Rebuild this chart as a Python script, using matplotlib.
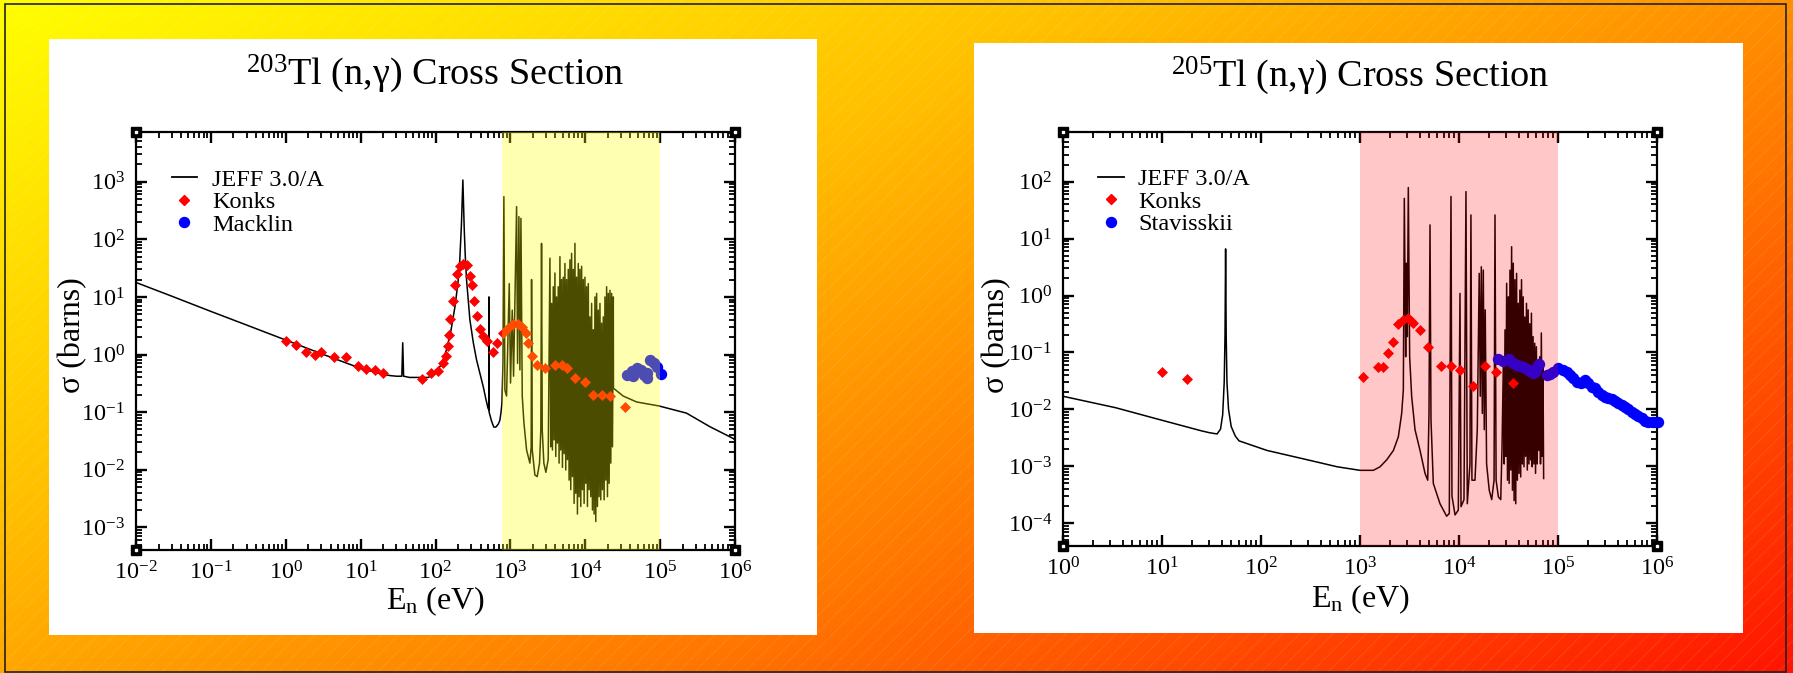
import numpy as np
import matplotlib
matplotlib.use("Agg")
import matplotlib.pyplot as plt
from matplotlib.patches import Rectangle
from matplotlib.lines import Line2D
from matplotlib.ticker import LogLocator, LogFormatterMathtext, NullFormatter

plt.rcParams['font.family'] = ['Liberation Serif', 'DejaVu Serif']
plt.rcParams['mathtext.fontset'] = 'custom'
plt.rcParams['mathtext.rm'] = 'Liberation Serif'
plt.rcParams['mathtext.it'] = 'Liberation Serif:italic'
plt.rcParams['mathtext.bf'] = 'Liberation Serif:bold'

# ------------------------------------------------------------------ data
# ---- 203Tl : JEFF 3.0/A evaluated curve
jeff203_pre_E = [0.01, 0.03, 0.1, 0.3, 1.0, 3.0, 10, 15, 20, 25, 30, 35.5, 36.5, 37.5, 45, 62, 80,
                 100, 120, 140, 160, 182, 200, 211, 222, 228, 232, 236, 242, 250, 260, 275, 288,
                 320, 354, 400, 436, 470, 500, 514, 517, 520, 560, 600, 640, 690, 724, 750,
                 771, 796, 819, 845, 889, 966, 1005, 1059, 1103, 1211, 1248, 1300, 1340, 1383,
                 1441, 1517, 1646, 1822, 1896, 1918, 1960, 2124, 2282, 2452, 2551, 2607, 2665,
                 2800, 2980, 3200]
jeff203_pre_sig = [17.8, 10.3, 5.6, 3.25, 1.78, 1.03, 0.575, 0.50, 0.45, 0.43, 0.42, 0.42, 1.6, 0.42,
                   0.40, 0.40, 0.40, 0.47, 0.68, 1.2, 2.5, 6.8, 18, 44, 180, 500, 1070, 500, 150,
                   50, 19.6, 8, 4, 1.6, 0.8, 0.42, 0.27, 0.17, 0.12, 0.11, 10, 0.10, 0.07, 0.055,
                   0.055, 0.062, 0.072, 0.10,
                   0.142, 0.70, 550, 0.24, 0.19, 17, 0.32, 5.9, 0.42, 369, 0.70, 247, 0.54, 231,
                   0.19, 0.065, 0.022, 0.013, 0.025, 20, 0.022, 0.0081, 0.0076, 0.013, 0.049, 85,
                   0.049, 0.013, 0.009, 0.015]
# unresolved-looking dense resonance band: resonance tops and dips
jeff203_peak_E = [3375, 3553, 3740, 3936, 4143, 4361, 4591, 4832, 5087, 5354, 5636, 5933, 6245,
                  6573, 6919, 7283, 7666, 8070, 8494, 8941, 9412, 9907, 10428, 10977, 11554,
                  12162, 12802, 13476, 14185, 14931, 15717, 16544, 17415, 18331, 19296, 20311,
                  21380, 22505, 23689]
jeff203_peak_sig = [47, 7.7, 15, 26, 10, 15, 50, 20, 22, 38, 20, 30, 44, 57, 30, 85, 22, 38, 30,
                    34, 20, 22, 15, 17, 4.5, 7.7, 2.7, 10, 11.5, 5.9, 7.7, 3.5, 4.5, 10, 15, 11.5,
                    13, 11.5, 10]
jeff203_dip_E = [3463, 3645, 3837, 4038, 4251, 4474, 4710, 4958, 5219, 5493, 5783, 6087, 6407,
                 6744, 7099, 7472, 7865, 8280, 8715, 9173, 9657, 10165, 10699, 11262, 11854,
                 12478, 13135, 13826, 14554, 15319, 16126, 16974, 17868, 18808, 19798, 20839,
                 21936, 23090]
jeff203_dip_sig = [0.025, 0.022, 0.033, 0.017, 0.029, 0.013, 0.022, 0.011, 0.019, 0.0099, 0.015,
                   0.0066, 0.0045, 0.0076, 0.0026, 0.0039, 0.0017, 0.0034, 0.0023, 0.0045, 0.0026,
                   0.0058, 0.0023, 0.0045, 0.0034, 0.0020, 0.0017, 0.00126, 0.0023, 0.0034,
                   0.0030, 0.0045, 0.0030, 0.0066, 0.0034, 0.0058, 0.013, 0.025]
jeff203_post_E = [23800, 32100, 48500, 96200, 225000, 460000, 940000, 1.0e6]
jeff203_post_sig = [0.26, 0.19, 0.15, 0.128, 0.096, 0.056, 0.035, 0.033]

konks203_E = [1.0, 1.37, 1.85, 2.45, 3.0, 4.45, 6.3, 9.1, 11.7, 15.5, 19.7, 66, 88, 109, 127, 138,
              148, 153, 158, 169, 181, 195, 212, 236, 265, 287, 310, 326, 355, 392, 433, 488,
              578, 667, 803, 936, 1092, 1273, 1409, 1612, 1731, 1918, 2282, 2889, 3929, 4819,
              5620, 7267, 9880, 12770, 16490, 21330, 33800]
konks203_sig = [1.71, 1.46, 1.12, 0.98, 1.12, 0.89, 0.89, 0.62, 0.55, 0.54, 0.47, 0.38, 0.47, 0.51,
                0.72, 0.94, 1.4, 2.2, 4.2, 8.5, 16, 24.5, 34, 38, 36, 23, 16, 8.5, 4.7, 2.8, 2.1,
                1.7, 1.12, 1.56, 2.33, 2.85, 3.39, 3.39, 2.97, 2.33, 1.56, 0.94, 0.66, 0.575,
                0.66, 0.66, 0.575, 0.386, 0.338, 0.199, 0.199, 0.19, 0.124]
macklin_E = [35600, 41500, 44000, 48400, 54700, 60600, 66000, 67200, 72900, 82400, 91400, 102000]
macklin_sig = [0.44, 0.525, 0.43, 0.575, 0.54, 0.44, 0.48, 0.386, 0.80, 0.72, 0.60, 0.46]

# ---- 205Tl : JEFF 3.0/A evaluated curve
jeff205_pre_E = [1, 3.4, 9.8, 25, 30, 36, 39, 41, 42.5, 43.3, 43.9, 44.5, 45.3, 47, 50, 55, 60,
                 115, 295, 590, 1000, 1364, 1593, 1862, 2175, 2440, 2636, 2740, 2803, 2893, 2938,
                 3006, 3076, 3174, 3325, 3595, 4040, 4538, 4830, 4977, 5095, 5213, 5503, 6430,
                 7500, 7980, 8300, 8490, 9120, 9840, 10230, 10480, 11230, 11760, 12130, 12900,
                 13200, 13510, 14500, 15300, 16000, 16400, 16800, 17200, 17600, 18000, 18400,
                 19000, 20200, 21400, 22600, 23100, 23700, 25000, 26400, 27200]
jeff205_pre_sig = [0.017, 0.0107, 0.0065, 0.0042, 0.0039, 0.0037, 0.0045, 0.008, 0.03, 0.2, 6.6,
                   0.2, 0.03, 0.01, 0.005, 0.0034, 0.0028, 0.0019, 0.0013, 0.00098, 0.00085,
                   0.00085, 0.00098, 0.0013, 0.0019, 0.0033, 0.0085, 0.022, 51, 0.084, 3.7, 0.19,
                   79, 0.084, 0.017, 0.0044, 0.0019, 0.00075, 0.00057, 0.0085, 17.4, 0.0065,
                   0.0005, 0.00022, 0.000133, 0.000148, 55, 0.0003, 0.00014, 0.00017, 1.09,
                   0.000195, 0.00026, 67, 0.00022, 0.0011, 26, 0.00057, 0.00057, 0.0044, 2.45,
                   0.017, 3.2, 0.0085, 2.8, 0.0044, 0.56, 0.0011, 0.00038, 0.00026, 0.00057, 26,
                   0.00057, 0.00029, 0.00026, 0.0022]
jeff205_peak_E = [28050, 29160, 30300, 31490, 32720, 34000, 35330, 36720, 38160, 39650, 41200,
                  42810, 44490, 46230, 48040, 49920, 51870, 53900, 56010, 58200, 60480, 62840,
                  65300, 67860, 70510]
jeff205_peak_sig = [0.064, 0.25, 1.64, 0.95, 2.8, 7.2, 3.7, 1.9, 2.45, 0.73, 1.25, 1.9, 0.95,
                    0.42, 0.73, 0.56, 0.32, 0.49, 0.19, 0.145, 0.126, 0.064, 0.084, 0.22, 0.064]
jeff205_dip_E = [28600, 29730, 30890, 32100, 33360, 34660, 36020, 37430, 38890, 40420, 42000,
                 43640, 45350, 47130, 48970, 50890, 52880, 54950, 57100, 59330, 61650, 64060,
                 66570, 69180, 71600]
jeff205_dip_sig = [0.0011, 0.0015, 0.00057, 0.0005, 0.00086, 0.00038, 0.00025, 0.00022, 0.00057,
                   0.00075, 0.00065, 0.0011, 0.00098, 0.0015, 0.00086, 0.0011, 0.0013, 0.00098,
                   0.0011, 0.00075, 0.0011, 0.0019, 0.0011, 0.0015, 0.00061]

konks205_E = [10, 18, 1064, 1530, 1720, 1932, 2137, 2440, 2740, 3030, 3250, 3400, 4040, 4830,
              6580, 8240, 10230, 13700, 18450, 23500, 35400]
konks205_sig = [0.046, 0.034, 0.0375, 0.056, 0.056, 0.096, 0.155, 0.316, 0.37, 0.41, 0.36, 0.33,
                0.25, 0.126, 0.058, 0.058, 0.049, 0.026, 0.058, 0.046, 0.0286]
stav_E = [24950, 28060, 32240, 35370, 38200, 41300, 44640, 48260, 52150, 55460, 58600, 61850,
          64800, 76840, 83000, 89700, 100700, 111400, 122300, 132000, 142800, 156700, 169400,
          187400, 202400, 218800, 236500, 255500, 276300, 298500, 322500, 348700, 376800,
          406600, 439600, 475300, 513300, 554700, 599800, 647800, 700300, 757000, 817000,
          918000, 1030000]
stav_sig = [0.0757, 0.0717, 0.0757, 0.0643, 0.060, 0.0577, 0.0547, 0.0505, 0.0478, 0.044, 0.046,
            0.0547, 0.0625, 0.040, 0.0412, 0.046, 0.0525, 0.0495, 0.046, 0.040, 0.035, 0.0306,
            0.0294, 0.0327, 0.0294, 0.025, 0.0234, 0.0204, 0.0179, 0.0167, 0.016, 0.015, 0.0142,
            0.0127, 0.0119, 0.0111, 0.010, 0.0091, 0.0083, 0.0076, 0.0072, 0.0063, 0.0061,
            0.0061, 0.0061]

legend203 = ["JEFF 3.0/A", "Konks", "Macklin"]
legend205 = ["JEFF 3.0/A", "Konks", "Stavisskii"]
title203 = r"$^{203}$Tl (n,γ) Cross Section"
title205 = r"$^{205}$Tl (n,γ) Cross Section"
xlabel = r"E$_\mathrm{n}$ (eV)"
ylabel = "σ (barns)"


def join_curve(pre_E, pre_s, pk_E, pk_s, dp_E, dp_s, post_E, post_s):
    E = list(pre_E)
    S = list(pre_s)
    for i in range(len(pk_E)):
        E.append(pk_E[i]); S.append(pk_s[i])
        if i < len(dp_E):
            E.append(dp_E[i]); S.append(dp_s[i])
    E += list(post_E)
    S += list(post_s)
    return E, S


jeff203_E, jeff203_sig = join_curve(jeff203_pre_E, jeff203_pre_sig, jeff203_peak_E, jeff203_peak_sig,
                                    jeff203_dip_E, jeff203_dip_sig, jeff203_post_E, jeff203_post_sig)
jeff205_E, jeff205_sig = join_curve(jeff205_pre_E, jeff205_pre_sig, jeff205_peak_E, jeff205_peak_sig,
                                    jeff205_dip_E, jeff205_dip_sig, [], [])

# ------------------------------------------------------------------ figure
W, H = 1793, 673
fig = plt.figure(figsize=(W / 100, H / 100), dpi=100)


def box(x0, y0, x1, y1):
    return [x0 / W, 1 - y1 / H, (x1 - x0) / W, (y1 - y0) / H]


# gradient background
bg = fig.add_axes([0, 0, 1, 1], zorder=-10)
X, Y = np.meshgrid(np.linspace(0, 1, W), np.linspace(0, 1, H))
t = 0.55 * X + 0.45 * Y
G = np.interp(t, [0, 0.35, 0.65, 1.0], [255, 190, 120, 20]) / 255.0
img = np.dstack([np.ones_like(G), G, np.zeros_like(G)])
bg.imshow(img, aspect='auto', extent=[0, 1, 0, 1], origin='upper', interpolation='bilinear')
bg.set_xlim(0, 1); bg.set_ylim(0, 1)
bg.axis('off')
bg.add_patch(Rectangle((0, 0), 1, 1, transform=bg.transAxes, fill=False, hatch='//',
                       edgecolor=(1, 1, 1, 0.07), linewidth=0))
# white panels
for (x0, y0, x1, y1) in [(49, 39, 817, 635), (974, 43, 1743, 633)]:
    b = box(x0, y0, x1, y1)
    bg.add_patch(Rectangle((b[0], b[1]), b[2], b[3], transform=fig.transFigure,
                           facecolor='white', edgecolor='none', zorder=2))
b = box(5, 4, 1786, 672)
bg.add_patch(Rectangle((b[0], b[1]), b[2], b[3], transform=fig.transFigure, fill=False,
                       edgecolor='#222222', linewidth=1.2, zorder=3))


def style_axes(ax, xlim, ylim):
    ax.set_xscale('log'); ax.set_yscale('log')
    ax.set_xlim(*xlim); ax.set_ylim(*ylim)
    ax.set_facecolor('white')
    for s in ax.spines.values():
        s.set_linewidth(1.6)
    for axis in (ax.xaxis, ax.yaxis):
        axis.set_major_locator(LogLocator(base=10, numticks=30))
        axis.set_minor_locator(LogLocator(base=10, subs=np.arange(2, 10), numticks=100))
        axis.set_major_formatter(LogFormatterMathtext())
        axis.set_minor_formatter(NullFormatter())
    ax.tick_params(which='both', direction='in', top=True, right=True, labelsize=17.5, pad=8)
    ax.tick_params(which='major', length=8, width=1.7)
    ax.tick_params(which='minor', length=4.3, width=1.3)
    ax.set_xlabel(xlabel, fontsize=23)
    ax.set_ylabel(ylabel, fontsize=23)
    ax.plot([0, 1, 0, 1], [0, 0, 1, 1], 's', transform=ax.transAxes, clip_on=False,
            ms=6.5, color='black', zorder=10)
    ax.plot([0, 1, 0, 1], [0, 0, 1, 1], 's', transform=ax.transAxes, clip_on=False,
            ms=1.8, color='white', zorder=11)


def add_legend(ax, labels, x, y):
    handles = [Line2D([], [], color='black', lw=1.3),
               Line2D([], [], ls='none', marker='D', ms=4.9, color='red'),
               Line2D([], [], ls='none', marker='o', ms=7.2, color='blue')]
    ax.legend(handles, labels, loc='upper left', bbox_to_anchor=(x, y), frameon=False,
              fontsize=17.5, handlelength=1.05, handletextpad=0.6, labelspacing=0.02,
              borderpad=0, borderaxespad=0, numpoints=1)


# ---- left panel
ax1 = fig.add_axes(box(136, 132, 735, 550))
style_axes(ax1, (1e-2, 1e6), (10 ** -3.394, 10 ** 3.863))
ax1.plot(jeff203_E, jeff203_sig, color='black', lw=1.1, zorder=3)
ax1.plot(konks203_E, konks203_sig, ls='none', marker='D', ms=4.9, color='red', mew=0.5,
         zorder=4, clip_on=False)
ax1.plot(macklin_E, macklin_sig, ls='none', marker='o', ms=7.2, color='blue', zorder=4,
         clip_on=False)
ax1.axvspan(780, 1e5, color=(1, 1, 0), alpha=0.3, lw=0, zorder=6)
add_legend(ax1, legend203, 0.0596, 0.912)
ax1.xaxis.set_label_coords(0.5, -0.082)
ax1.yaxis.set_label_coords(-0.081, 0.513)
fig.text(435.5 / W, 1 - 84.5 / H, title203, ha='center', va='baseline', fontsize=27.5)

# ---- right panel
ax2 = fig.add_axes(box(1063, 132, 1657, 546))
style_axes(ax2, (1, 1e6), (10 ** -4.40, 10 ** 2.873))
ax2.plot(jeff205_E, jeff205_sig, color='black', lw=1.1, zorder=3)
ax2.plot(konks205_E, konks205_sig, ls='none', marker='D', ms=4.9, color='red', mew=0.5,
         zorder=4, clip_on=False)
ax2.plot(stav_E, stav_sig, ls='none', marker='o', ms=7.2, color='blue', zorder=4, clip_on=False)
ax2.axvspan(1e3, 1e5, color=(1, 0, 0), alpha=0.22, lw=0, zorder=6)
add_legend(ax2, legend205, 0.059, 0.912)
ax2.xaxis.set_label_coords(0.5, -0.087)
ax2.yaxis.set_label_coords(-0.088, 0.51)
fig.text(1360 / W, 1 - 86 / H, title205, ha='center', va='baseline', fontsize=27.5)

fig.savefig("out.png", dpi=100)
